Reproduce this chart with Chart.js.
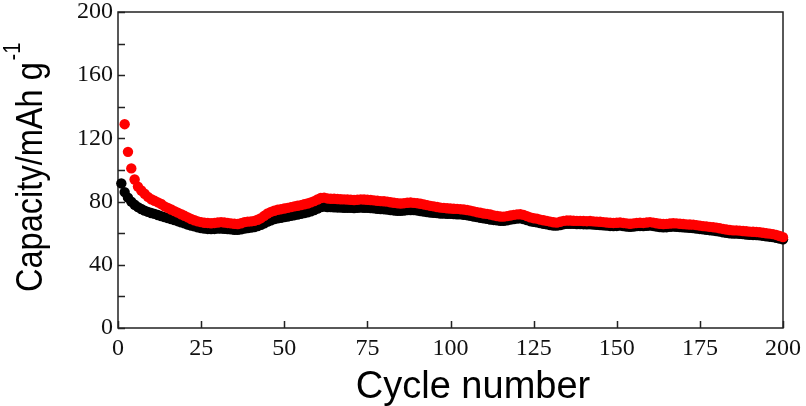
<!DOCTYPE html>
<html>
<head>
<meta charset="utf-8">
<script src="https://cdn.jsdelivr.net/npm/chart.js@4/dist/chart.umd.min.js"></script>
<style>
  html, body { margin: 0; padding: 0; background: #fff; }
  #wrap { width: 806px; height: 406px; }
</style>
</head>
<body>
<div id="wrap"><canvas id="chart" width="806" height="406"></canvas></div>
<script>
// cycle index 1..200
const cycles = Array.from({ length: 200 }, (_, i) => i + 1);

// red series (upper); cycle 1 has no red point
const chargeCap = [
  null, 129, 111.5, 101, 94, 89.5, 87, 85, 83, 81.5,
  80.5, 79.5, 78.5, 77, 76, 75, 74, 73, 72, 71,
  70, 69, 68.2, 67.5, 67, 66.6, 66.5, 66.3, 66.5, 66.8,
  67, 66.8, 66.5, 66.2, 66, 65.8, 66.3, 67, 67.3, 67.5,
  67.8, 68.5, 69.5, 71, 72.5, 73.5, 74.2, 74.8, 75.2, 75.6,
  76, 76.5, 77, 77.4, 77.8, 78.3, 78.8, 79.5, 80.3, 81.3,
  82.3, 82.5, 82, 81.8, 81.8, 81.6, 81.5, 81.4, 81.3, 81.2,
  81, 81.2, 81.4, 81.3, 81.2, 81, 80.8, 80.5, 80.3, 80.2,
  80, 79.6, 79.3, 79, 78.8, 79, 79.3, 79.4, 79.2, 79,
  78.6, 78.2, 77.8, 77.3, 77, 76.6, 76.2, 76, 75.8, 75.6,
  75.5, 75.4, 75.2, 75, 74.7, 74.3, 73.8, 73.3, 72.9, 72.5,
  72.2, 71.8, 71.3, 70.9, 70.6, 70.5, 70.8, 71.2, 71.6, 71.9,
  72, 71.6, 70.8, 70, 69.5, 69.2, 68.6, 68.2, 67.8, 67.3,
  66.9, 66.7, 67.2, 67.8, 68, 68, 67.9, 67.8, 67.8, 67.7,
  67.6, 67.7, 67.5, 67.3, 67.2, 67, 66.8, 66.6, 66.5, 66.6,
  66.8, 66.5, 66.2, 66, 66.2, 66.5, 66.6, 66.5, 66.8, 67,
  66.7, 66.3, 66, 65.8, 65.9, 66.1, 66.3, 66.2, 66, 65.8,
  65.6, 65.5, 65.4, 65.1, 64.8, 64.5, 64.3, 64, 63.8, 63.5,
  63.1, 62.7, 62.3, 62, 61.8, 61.8, 61.6, 61.4, 61.2, 61,
  60.9, 60.8, 60.6, 60.3, 60, 59.7, 59.4, 58.9, 58.2, 57.5
];

// black series (lower)
const dischargeCap = [
  91.5, 86, 82.5, 80, 78, 76.5, 75.3, 74.3, 73.5, 72.8,
  72.2, 71.5, 70.8, 70.2, 69.6, 69, 68.3, 67.6, 66.9, 66.2,
  65.5, 64.9, 64.3, 63.7, 63.2, 62.9, 62.7, 62.6, 62.7, 62.9,
  63, 62.8, 62.6, 62.4, 62.2, 62.1, 62.5, 63, 63.3, 63.6,
  63.9, 64.5, 65.3, 66.3, 67.3, 68.2, 68.9, 69.4, 69.8, 70.2,
  70.6, 71, 71.4, 71.8, 72.2, 72.7, 73.2, 73.8, 74.6, 75.6,
  76.5, 76.8, 76.6, 76.5, 76.4, 76.3, 76.2, 76.1, 76, 76,
  75.9, 76, 76.2, 76.1, 76, 75.9, 75.7, 75.5, 75.3, 75.2,
  75, 74.7, 74.4, 74.2, 74.1, 74.3, 74.6, 74.7, 74.6, 74.4,
  74, 73.7, 73.4, 73.1, 72.9, 72.7, 72.5, 72.4, 72.3, 72.2,
  72.1, 72, 71.9, 71.7, 71.4, 71, 70.6, 70.2, 69.8, 69.4,
  69.1, 68.7, 68.4, 68.1, 67.9, 67.9, 68.2, 68.6, 69, 69.3,
  69.4, 69, 68.3, 67.6, 67.2, 66.9, 66.4, 66, 65.6, 65.2,
  64.9, 64.8, 65.2, 65.7, 66, 66, 65.9, 65.8, 65.8, 65.7,
  65.6, 65.7, 65.5, 65.3, 65.2, 65, 64.8, 64.6, 64.5, 64.6,
  64.8, 64.5, 64.2, 64, 64.2, 64.5, 64.6, 64.5, 64.7, 64.9,
  64.6, 64.2, 63.9, 63.7, 63.8, 64, 64.2, 64.1, 63.9, 63.7,
  63.5, 63.4, 63.3, 63, 62.7, 62.4, 62.2, 61.9, 61.7, 61.4,
  61, 60.6, 60.2, 59.9, 59.8, 59.8, 59.6, 59.4, 59.2, 59,
  58.9, 58.8, 58.6, 58.3, 58, 57.8, 57.5, 57.1, 56.6, 56.1
];

const xTicks = [0, 25, 50, 75, 100, 125, 150, 175, 200];
const yTicks = [0, 40, 80, 120, 160, 200];
const yMinorTicks = [20, 60, 100, 140, 180];

function toPoints(vals) {
  const pts = [];
  vals.forEach((v, i) => { if (v !== null) pts.push({ x: cycles[i], y: v }); });
  return pts;
}

// frame, inward tick marks and axis titles
const decor = {
  id: 'decor',
  beforeDatasetsDraw(chart) {
    const { ctx, chartArea: a, scales } = chart;
    ctx.save();
    ctx.strokeStyle = '#222';
    ctx.lineWidth = 1.5;
    ctx.strokeRect(a.left, a.top, a.right - a.left, a.bottom - a.top);
    ctx.beginPath();
    yTicks.concat(yMinorTicks).forEach(v => {
      const y = Math.round(scales.y.getPixelForValue(v)) + 0.5;
      ctx.moveTo(a.left, y);
      ctx.lineTo(a.left + 7, y);
    });
    xTicks.forEach(v => {
      const x = Math.round(scales.x.getPixelForValue(v)) + 0.5;
      ctx.moveTo(x, a.bottom);
      ctx.lineTo(x, a.bottom - 7);
    });
    ctx.stroke();
    ctx.restore();
  },
  afterDraw(chart) {
    const { ctx } = chart;
    ctx.save();
    ctx.fillStyle = '#000';
    // x title
    ctx.font = '38px "Liberation Sans", Arial, sans-serif';
    ctx.textAlign = 'center';
    ctx.textBaseline = 'alphabetic';
    ctx.fillText('Cycle number', 473, 398);
    // y title, rotated, a little condensed like the original
    ctx.translate(42, 292);
    ctx.rotate(-Math.PI / 2);
    ctx.scale(0.88, 1);
    ctx.textAlign = 'left';
    ctx.font = '37px "Liberation Sans", Arial, sans-serif';
    const main = 'Capacity/mAh g';
    ctx.fillText(main, 0, 0);
    const w = ctx.measureText(main).width;
    ctx.font = '23px "Liberation Sans", Arial, sans-serif';
    ctx.fillText('-1', w + 2, -22);
    ctx.restore();
  }
};

const tickFont = { family: '"Liberation Serif", "Times New Roman", serif', size: 24 };

new Chart(document.getElementById('chart'), {
  type: 'scatter',
  data: {
    datasets: [
      {
        label: 'red',
        data: toPoints(chargeCap),
        pointRadius: 5.2,
        pointBorderWidth: 0,
        pointBackgroundColor: '#ff0000',
        pointBorderColor: '#ff0000',
        clip: false
      },
      {
        label: 'black',
        data: toPoints(dischargeCap),
        pointRadius: 5.2,
        pointBorderWidth: 0,
        pointBackgroundColor: '#000000',
        pointBorderColor: '#000000',
        clip: false
      }
    ]
  },
  options: {
    responsive: false,
    animation: false,
    events: [],
    layout: { padding: { top: 12, right: 23, left: 0, bottom: 0 } },
    plugins: { legend: { display: false }, tooltip: { enabled: false } },
    scales: {
      x: {
        type: 'linear',
        min: 0,
        max: 200,
        grid: { display: false, drawTicks: false },
        border: { display: false },
        ticks: {
          stepSize: 25,
          padding: 6,
          color: '#111',
          font: tickFont,
          maxRotation: 0
        },
        afterFit(s) { s.height = 78; s.paddingLeft = 0; s.paddingRight = 0; }
      },
      y: {
        min: 0,
        max: 200,
        grid: { display: false, drawTicks: false },
        border: { display: false },
        ticks: {
          stepSize: 40,
          padding: 5,
          color: '#111',
          font: tickFont
        },
        afterFit(s) { s.width = 118; s.paddingTop = 0; s.paddingBottom = 0; }
      }
    }
  },
  plugins: [decor]
});
</script>
</body>
</html>
